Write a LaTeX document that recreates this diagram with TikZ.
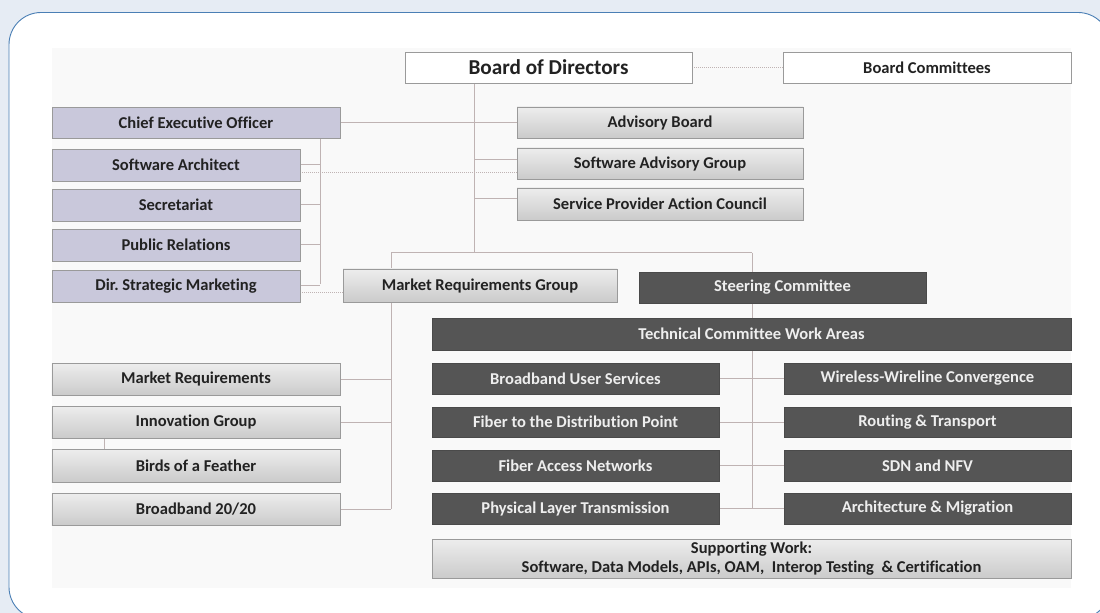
\documentclass[tikz,border=0pt]{standalone}
\usepackage{fontspec}
\setmainfont{Carlito}[Ligatures=NoCommon]
\frenchspacing
\pgfdeclarelayer{back}
\pgfdeclarelayer{lines}
\pgfsetlayers{back,lines,main}
\definecolor{bgblue}{HTML}{E6ECF4}
\definecolor{frame}{HTML}{4A7FB5}
\definecolor{inner}{HTML}{F9F9F9}
\definecolor{boxedge}{HTML}{9A9A9A}
\definecolor{txt}{HTML}{222222}
\definecolor{purpf}{HTML}{C9C8DB}
\definecolor{liteT}{HTML}{EDEDED}
\definecolor{liteB}{HTML}{CBCBCB}
\definecolor{darkf}{HTML}{555555}
\definecolor{darkedge}{HTML}{4A4A4A}
\definecolor{darktxt}{HTML}{EEEEEE}
\definecolor{linec}{HTML}{BFB3B3}
\newcommand\mybox[7]{\node[#2, minimum width=#5bp-#3bp, minimum height=#6bp-#4bp] (#1) at ({(#3+#5)/2},{(#4+#6)/2}) {#7};}
\begin{document}
\begin{tikzpicture}[x=1bp,y=-1bp,
  box/.style={draw=boxedge, line width=0.8bp, inner sep=0pt, text=txt, font=\bfseries\fontsize{16.6}{19}\selectfont},
  lite/.style={box, top color=liteT, bottom color=liteB},
  purp/.style={box, fill=purpf},
  dark/.style={box, fill=darkf, draw=darkedge, text=darktxt},
  wbox/.style={box, fill=white},
  conn/.style={draw=linec, line width=1bp},
  dotc/.style={draw=linec, line width=1bp, dash pattern=on 1bp off 1bp}]
\useasboundingbox (0,0) rectangle (1100,613);
\clip (0,0) rectangle (1100,613);
\begin{pgfonlayer}{back}
\fill[bgblue] (0,0) rectangle (1100,613);
\draw[frame, fill=white, line width=0.9bp, rounded corners=32bp] (9,12.5) rectangle (1110,619);
\fill[inner] (52,48) rectangle (1071,588);
\end{pgfonlayer}

\mybox{bod}{wbox, font=\bfseries\fontsize{21.3}{24}\selectfont}{405}{52}{692}{83}{Board of Directors}
\mybox{bc}{wbox}{783}{52}{1071}{83}{Board Committees}
\mybox{ceo}{purp}{52}{107}{340}{138}{Chief Executive Officer}
\mybox{sa}{purp}{52}{149}{300}{181}{Software Architect}
\mybox{sec}{purp}{52}{189}{300}{221}{Secretariat}
\mybox{pr}{purp}{52}{229}{300}{261}{Public Relations}
\mybox{dsm}{purp}{52}{270}{300}{302}{Dir. Strategic Marketing}
\mybox{adv}{lite}{517}{107}{803}{138}{Advisory Board}
\mybox{sag}{lite}{517}{148}{803}{179}{Software Advisory Group}
\mybox{spac}{lite}{517}{188}{803}{220}{Service Provider Action Council}
\mybox{mrg}{lite}{343}{269}{617}{302}{Market Requirements Group}
\mybox{sc}{dark}{639}{272}{926}{303}{Steering Committee}
\mybox{tcwa}{dark}{432}{318}{1071}{350}{Technical Committee Work Areas}
\mybox{bus}{dark}{432}{363}{719}{394}{Broadband User Services}
\mybox{fdp}{dark}{432}{407}{719}{437}{Fiber to the Distribution Point}
\mybox{fan}{dark}{432}{450}{719}{481}{Fiber Access Networks}
\mybox{plt}{dark}{432}{493}{719}{524}{Physical Layer Transmission}
\mybox{wwc}{dark}{784}{363}{1071}{394}{Wireless-Wireline Convergence}
\mybox{rt}{dark}{784}{407}{1071}{437}{Routing \& Transport}
\mybox{sdn}{dark}{784}{450}{1071}{481}{SDN and NFV}
\mybox{am}{dark}{784}{493}{1071}{524}{Architecture \& Migration}
\mybox{mr}{lite}{52}{363}{340}{395}{Market Requirements}
\mybox{ig}{lite}{52}{406}{340}{438}{Innovation Group}
\mybox{bof}{lite}{52}{449}{340}{482}{Birds of a Feather}
\mybox{b20}{lite}{52}{493}{340}{525}{Broadband 20/20}
\mybox{sw}{lite, align=center, font=\bfseries\fontsize{16.6}{19}\selectfont}{432}{539}{1071}{578}{Supporting Work:\\Software, Data Models, APIs, OAM,\ \ Interop Testing\ \ \& Certification}

\coordinate (cv) at (320,284);
\coordinate (bv) at (474,253);
\coordinate (hl) at (391,253);
\coordinate (hr) at (752,253);
\coordinate (bft) at (104,427);
\coordinate (bfb) at (104,463);

\begin{pgfonlayer}{lines}
\draw[dotc] (bod.east) -- (bc.west);
\draw[conn] (ceo.east) -- (adv.west);
\draw[conn] (ceo.south -| cv) -- (cv);
\draw[conn] (sa.east) -- (sa.east -| cv);
\draw[conn] (sec.east) -- (sec.east -| cv);
\draw[conn] (pr.east) -- (pr.east -| cv);
\draw[conn] (dsm.east) -- (dsm.east -| cv);
\draw[dotc] ([yshift=-8bp]sa.east) -- ([yshift=-8bp]sa.east -| sag.west);
\draw[dotc] ([yshift=-6bp]dsm.east) -- ([yshift=-6bp]dsm.east -| mrg.west);
\draw[conn] (bod.south -| bv) -- (bv);
\draw[conn] ([yshift=4bp]sag.west -| bv) -- ([yshift=4bp]sag.west);
\draw[conn] ([yshift=5bp]spac.west -| bv) -- ([yshift=5bp]spac.west);
\draw[conn] (hl) -- (hr);
\draw[conn] (hl) -- (mrg.north -| hl);
\draw[conn] (mrg.south -| hl) -- (b20.east -| hl);
\draw[conn] (mr.east) -- (mr.east -| hl);
\draw[conn] (ig.east) -- (ig.east -| hl);
\draw[conn] (b20.east) -- (b20.east -| hl);
\draw[conn] (bft) -- (bfb);
\draw[conn] (hr) -- (plt.east -| hr);
\draw[conn] (bus.east) -- (wwc.west);
\draw[conn] (fdp.east) -- (rt.west);
\draw[conn] (fan.east) -- (sdn.west);
\draw[conn] (plt.east) -- (am.west);
\end{pgfonlayer}
\end{tikzpicture}
\end{document}
